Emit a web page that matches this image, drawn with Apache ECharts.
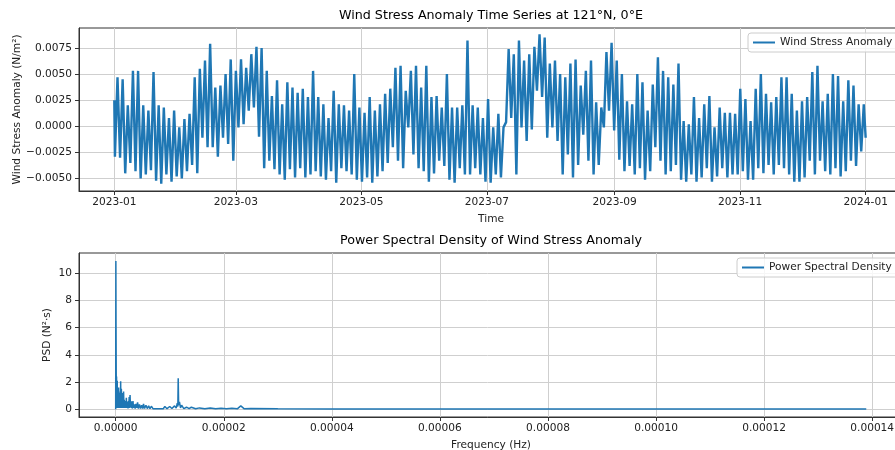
<!DOCTYPE html>
<html>
<head>
<meta charset="utf-8">
<script src="https://cdn.jsdelivr.net/npm/echarts@6/dist/echarts.min.js"></script>
</head>
<body style="margin:0">
<div id="chart" style="width:895px;height:450px"></div>
<script>
var binDays = 2.5;
var stressStart = 2.5, stressEnd = -1.1;
var stressHi = [
  4.7, 4.5, 2.0, 5.3, 5.3, 2.0, 1.5, 5.2, 2.0, 1.8,
  0.8, 1.5, -0.1, 0.7, 1.2, 4.7, 5.5, 6.3, 7.9, 3.7,
  3.9, 5.0, 6.4, 5.3, 6.4, 5.6, 6.9, 7.6, 7.5, 5.3,
  2.9, 4.4, 2.1, 4.2, 3.7, 3.2, 3.6, 2.8, 5.3, 2.8,
  2.1, 0.8, 3.4, 2.1, 2.0, 1.5, 5.0, 1.8, 1.3, 2.8,
  1.5, 2.1, 3.1, 3.6, 5.6, 5.8, 3.4, 5.3, 5.8, 3.7,
  5.8, 2.8, 2.9, 1.8, 5.0, 1.8, 1.8, 2.0, 8.2, 2.0,
  1.8, 0.8, 2.6, -0.1, 1.2, -0.1, 7.4, 6.9, 8.2, 6.3,
  6.9, 7.6, 8.8, 8.5, 6.0, 6.3, 5.0, 4.7, 6.0, 6.4,
  3.9, 5.3, 6.3, 2.3, 1.8, 7.1, 8.0, 6.3, 5.0, 2.4,
  2.1, 5.0, 4.2, 1.5, 4.0, 6.6, 5.3, 4.7, 4.0, 6.0,
  0.5, 0.2, 2.8, 0.8, 2.1, 2.9, -0.1, 1.8, 1.3, 1.3,
  1.2, 3.6, 2.6, 0.5, 3.6, 5.0, 3.1, 2.3, 2.8, 4.7,
  4.7, 3.1, 1.5, 2.4, 2.8, 5.2, 5.8, 2.4, 3.1, 5.0,
  4.8, 2.4, 4.4, 3.9, 2.1, 2.1
];
var stressLo = [
  -2.9, -3.0, -4.5, -3.5, -4.3, -5.0, -4.6, -4.2, -5.2, -5.5,
  -4.6, -5.3, -4.8, -5.0, -4.3, -3.7, -4.5, -1.1, -2.0, -2.0,
  -2.9, -1.1, -1.7, -3.3, -0.1, 0.2, 1.5, 1.8, -1.0, -4.0,
  -3.3, -4.1, -4.6, -5.1, -4.1, -4.9, -4.0, -4.9, -4.6, -4.3,
  -4.8, -5.1, -4.3, -5.4, -4.0, -4.3, -4.6, -5.1, -5.3, -4.9,
  -5.4, -4.8, -4.3, -3.5, -2.0, -3.3, -4.0, -0.1, -2.7, -4.0,
  -4.3, -5.3, -4.5, -3.3, -3.8, -5.1, -5.4, -4.0, -4.6, -4.6,
  -4.0, -4.6, -5.3, -5.4, -4.6, -4.9, 0.4, 0.8, -4.6, -0.1,
  -1.4, -0.3, 3.4, 2.8, -1.1, -0.1, -1.4, -4.6, -2.7, -4.9,
  -3.7, -0.8, -3.3, -4.6, -3.7, -0.1, 1.5, -0.4, -3.2, -4.3,
  -3.8, -4.6, -4.0, -5.1, -4.3, -2.0, -3.3, -4.6, -4.3, -3.7,
  -5.1, -5.3, -4.6, -5.3, -4.9, -4.0, -5.3, -4.8, -4.0, -4.9,
  -4.6, -4.6, -4.3, -5.1, -5.1, -4.0, -4.5, -3.7, -4.6, -3.7,
  -4.0, -4.6, -5.3, -5.3, -4.9, -3.3, -4.6, -3.3, -4.3, -4.6,
  -4.0, -4.8, -4.3, -3.3, -3.8, -2.4
];
// month ticks, in days after 2023-01-01
var monthTicks = [0, 59, 120, 181, 243, 304, 365];
var monthLabels = ['2023-01', '2023-03', '2023-05', '2023-07', '2023-09', '2023-11', '2024-01'];
var stressTicks = [-0.005, -0.0025, 0, 0.0025, 0.005, 0.0075];

// power spectral density (frequency in microhertz)
var psdFreq = [
  0, 0.032, 0.063, 0.095, 0.127, 0.159, 0.19, 0.222, 0.254, 0.285,
  0.317, 0.35, 0.38, 0.41, 0.44, 0.48, 0.51, 0.54, 0.57, 0.60,
  0.63, 0.67, 0.70, 0.73, 0.76, 0.79, 0.82, 0.86, 0.89, 0.92,
  0.95, 0.98, 1.01, 1.05, 1.08, 1.11, 1.14, 1.17, 1.2, 1.24,
  1.27, 1.3, 1.33, 1.36, 1.40, 1.46, 1.52, 1.58, 1.65, 1.71,
  1.78, 1.84, 1.9, 1.97, 2.03, 2.09, 2.16, 2.22, 2.28, 2.35,
  2.41, 2.5, 2.57, 2.66, 2.73, 2.82, 2.9, 3.0, 3.1, 3.2,
  3.3, 3.45, 3.6, 3.75, 3.9, 4.05, 4.2, 4.4, 4.6, 4.8,
  5.0, 5.15, 5.35, 5.6, 5.85, 6.1, 6.35, 6.6, 6.9, 7.2,
  7.5, 7.8, 8.1, 8.4, 8.8, 9.1, 9.5, 10.0, 10.4, 10.9,
  11.2, 11.4, 11.5, 11.57, 11.65, 11.8, 12.0, 12.2, 12.6, 13.1,
  13.6, 14.0, 14.8, 15.5, 16.5, 17.5, 18.5, 19.5, 20.5, 21.5,
  22.5, 23.15, 23.8, 25, 30, 40, 50, 60, 70, 80,
  90, 100, 110, 120, 130, 138.9
];
var psdVal = [
  0.0, 10.9, 6.2, 2.7, 0.3, 2.4, 0.2, 1.9, 0.1, 2.1,
  0.3, 1.3, 0.1, 1.2, 0.2, 0.9, 0.1, 1.6, 0.2, 1.3,
  0.1, 0.9, 0.15, 1.2, 0.1, 0.7, 0.2, 1.0, 0.1, 2.05,
  0.3, 1.3, 0.1, 1.5, 0.2, 0.8, 0.1, 1.0, 0.2, 1.2,
  0.1, 0.6, 0.15, 1.2, 0.1, 1.3, 0.2, 0.7, 0.1, 0.6,
  0.15, 0.5, 0.1, 0.85, 0.1, 0.55, 0.1, 0.45, 0.05, 0.6,
  0.1, 0.9, 0.1, 1.05, 0.15, 0.6, 0.1, 0.55, 0.05, 0.6,
  0.1, 0.35, 0.05, 0.4, 0.1, 0.5, 0.05, 0.35, 0.05, 0.3,
  0.05, 0.4, 0.05, 0.3, 0.05, 0.25, 0.04, 0.22, 0.04, 0.18,
  0.04, 0.15, 0.04, 0.15, 0.04, 0.2, 0.04, 0.2, 0.05, 0.25,
  0.08, 0.45, 0.2, 2.27, 0.3, 0.55, 0.1, 0.3, 0.05, 0.15,
  0.04, 0.15, 0.04, 0.1, 0.03, 0.1, 0.03, 0.08, 0.03, 0.08,
  0.03, 0.25, 0.03, 0.05, 0.03, 0.02, 0.02, 0.02, 0.02, 0.02,
  0.02, 0.02, 0.02, 0.02, 0.02, 0.02
];
var freqTicks = [0, 20, 40, 60, 80, 100, 120, 140];
var psdTicks = [0, 2, 4, 6, 8, 10];

var stressData = [[0, stressStart / 1000]];
for (var i = 0; i < stressHi.length; i++) {
  stressData.push([i * binDays + 0.3, stressLo[i] / 1000]);
  stressData.push([i * binDays + 1.55, stressHi[i] / 1000]);
}
stressData.push([364.96, stressEnd / 1000]);

var psdData = psdFreq.map(function (f, k) { return [f, psdVal[k]]; });

var txt = '#222';
var font = 'DejaVu Sans';
var fs = 10.6;
var gridLine = { show: true, lineStyle: { color: '#cfcfcf', width: 1 } };
var axisLine = { show: true, onZero: false, lineStyle: { color: '#333', width: 1 } };

function tickOf(vals) {
  return { show: true, length: 4, lineStyle: { color: '#333' }, customValues: vals };
}
function legendAt(name, x, y) {
  return { data: [name], left: x, top: y, orient: 'vertical', icon: 'rect', itemWidth: 22, itemHeight: 2,
    padding: [4, 6, 4, 5], backgroundColor: 'rgba(255,255,255,0.8)', borderColor: '#cccccc', borderWidth: 1, borderRadius: 3,
    textStyle: { fontSize: fs, color: txt, fontFamily: font } };
}

var chart = echarts.init(document.getElementById('chart'));
chart.setOption({
  animation: false,
  textStyle: { fontFamily: font },
  title: [
    { text: 'Wind Stress Anomaly Time Series at 121°N, 0°E', left: 491, top: 9, padding: 0, textAlign: 'center',
      textStyle: { fontSize: 12.7, fontWeight: 'normal', color: '#000', fontFamily: font } },
    { text: 'Power Spectral Density of Wind Stress Anomaly', left: 491, top: 234, padding: 0, textAlign: 'center',
      textStyle: { fontSize: 12.7, fontWeight: 'normal', color: '#000', fontFamily: font } }
  ],
  legend: [
    legendAt('Wind Stress Anomaly', 748, 33),
    legendAt('Power Spectral Density', 737, 258)
  ],
  grid: [
    { left: 79, top: 28, width: 824, height: 163, containLabel: false, outerBoundsMode: 'none',
      show: true, borderColor: '#333', borderWidth: 1, backgroundColor: 'transparent' },
    { left: 79, top: 253, width: 824, height: 164, containLabel: false, outerBoundsMode: 'none',
      show: true, borderColor: '#333', borderWidth: 1, backgroundColor: 'transparent' }
  ],
  xAxis: [
    { type: 'value', gridIndex: 0, min: -17.15, max: 383.1,
      name: 'Time', nameLocation: 'middle', nameGap: 23, nameTextStyle: { fontSize: fs, color: txt },
      axisLine: axisLine, axisTick: tickOf(monthTicks),
      axisLabel: { fontSize: fs, color: txt, margin: 6, customValues: monthTicks,
        formatter: function (v) { return monthLabels[monthTicks.indexOf(v)]; } },
      splitLine: gridLine },
    { type: 'value', gridIndex: 1, min: -6.79, max: 145.7,
      name: 'Frequency (Hz)', nameLocation: 'middle', nameGap: 23, nameTextStyle: { fontSize: fs, color: txt },
      axisLine: axisLine, axisTick: tickOf(freqTicks),
      axisLabel: { fontSize: fs, color: txt, margin: 6, customValues: freqTicks,
        formatter: function (v) { return (v / 1e6).toFixed(5); } },
      splitLine: gridLine }
  ],
  yAxis: [
    { type: 'value', gridIndex: 0, min: -0.00619, max: 0.009405,
      name: 'Wind Stress Anomaly (N/m²)', nameLocation: 'middle', nameGap: 56, nameMoveOverlap: false,
      nameTextStyle: { fontSize: fs, color: txt },
      axisLine: axisLine, axisTick: tickOf(stressTicks),
      axisLabel: { fontSize: fs, color: txt, margin: 7, customValues: stressTicks,
        formatter: function (v) { return v.toFixed(4).replace('-', '\u2212'); } },
      splitLine: gridLine },
    { type: 'value', gridIndex: 1, min: -0.57, max: 11.49,
      name: 'PSD (N²·s)', nameLocation: 'middle', nameGap: 26, nameMoveOverlap: false,
      nameTextStyle: { fontSize: fs, color: txt },
      axisLine: axisLine, axisTick: tickOf(psdTicks),
      axisLabel: { fontSize: fs, color: txt, margin: 7, customValues: psdTicks,
        formatter: function (v) { return String(v); } },
      splitLine: gridLine }
  ],
  series: [
    { name: 'Wind Stress Anomaly', type: 'line', xAxisIndex: 0, yAxisIndex: 0, data: stressData,
      showSymbol: false, symbol: 'none', lineStyle: { color: '#1f77b4', width: 2.4 }, itemStyle: { color: '#1f77b4' } },
    { name: 'Power Spectral Density', type: 'line', xAxisIndex: 1, yAxisIndex: 1, data: psdData,
      showSymbol: false, symbol: 'none', lineStyle: { color: '#1f77b4', width: 1.5 }, itemStyle: { color: '#1f77b4' } }
  ]
});
</script>
</body>
</html>
